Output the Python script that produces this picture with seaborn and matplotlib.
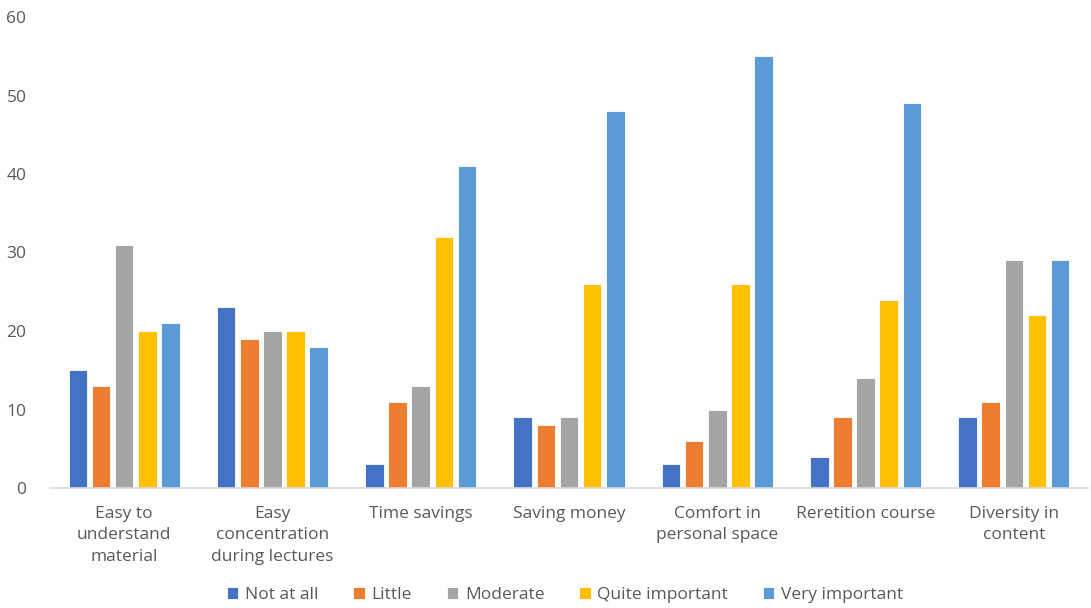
import matplotlib
matplotlib.use("Agg")
import matplotlib.pyplot as plt
import seaborn as sns
import pandas as pd

categories = [
    "Easy to\nunderstand\nmaterial",
    "Easy\nconcentration\nduring lectures",
    "Time savings",
    "Saving money",
    "Comfort in\npersonal space",
    "Reretition course",
    "Diversity in\ncontent",
]
levels = ["Not at all", "Little", "Moderate", "Quite important", "Very important"]
not_at_all = [15, 23, 3, 9, 3, 4, 9]
little = [13, 19, 11, 8, 6, 9, 11]
moderate = [31, 20, 13, 9, 10, 14, 29]
quite_important = [20, 20, 32, 26, 26, 24, 22]
very_important = [21, 18, 41, 48, 55, 49, 29]
y_ticks = [0, 10, 20, 30, 40, 50, 60]

colors = ["#4472C4", "#ED7D31", "#A5A5A5", "#FFC000", "#5B9BD5"]

series = [not_at_all, little, moderate, quite_important, very_important]
rows = []
for level, vals in zip(levels, series):
    for cat, v in zip(categories, vals):
        rows.append({"category": cat, "level": level, "count": v})
df = pd.DataFrame(rows)

sns.set_theme(style="white")
plt.rcParams["font.family"] = ["Open Sans", "DejaVu Sans"]

fig = plt.figure(figsize=(10.91, 6.08), dpi=100)
ax = fig.add_axes([50 / 1091, 120 / 608, 1038 / 1091, 471 / 608])

sns.barplot(
    data=df, x="category", y="count", hue="level",
    order=categories, hue_order=levels, palette=colors,
    width=0.78, gap=0.2, saturation=1, errorbar=None, ax=ax,
    edgecolor="white", linewidth=0.6,
)

ax.set_ylim(0, 60)
ax.set_xlim(-0.5, len(categories) - 0.5)
ax.set_yticks(y_ticks)
ax.set_xlabel("")
ax.set_ylabel("")
for s in ["top", "right", "left"]:
    ax.spines[s].set_visible(False)
ax.spines["bottom"].set_color("#D9D9D9")
ax.spines["bottom"].set_linewidth(1.2)
ax.tick_params(axis="y", length=0, pad=17, labelsize=12.5, labelcolor="#595959")
ax.tick_params(axis="x", length=0, pad=13, labelsize=12.5, labelcolor="#595959")
for lbl in ax.get_xticklabels():
    lbl.set_linespacing(1.45)

handles, labels = ax.get_legend_handles_labels()
ax.legend_.remove()
fig.legend(
    handles, labels, loc="lower center", bbox_to_anchor=(0.518, -0.018),
    ncol=5, frameon=False, fontsize=12.5, labelcolor="#595959",
    handlelength=0.65, handleheight=0.65, handletextpad=0.4, columnspacing=2.0,
)

fig.savefig("out.png", dpi=100)
